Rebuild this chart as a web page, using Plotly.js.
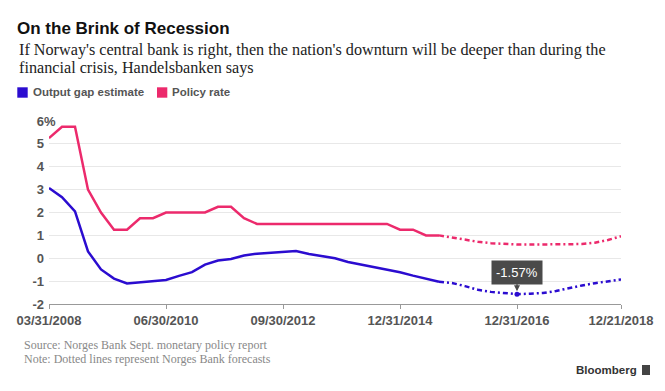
<!DOCTYPE html>
<html>
<head>
<meta charset="utf-8">
<script src="https://cdn.plot.ly/plotly-3.0.1.min.js"></script>
<style>html,body{margin:0;padding:0;background:#fff;}#chart{width:665px;height:391px;}</style>
</head>
<body>
<div id="chart"></div>
<script>
// ---- data (quarterly positions; the forecast starts at the last actual point) ----
const tickPositions = [0, 9, 18, 27, 36, 44];
const tickLabels = ['03/31/2008', '06/30/2010', '09/30/2012', '12/31/2014', '12/31/2016', '12/21/2018'];

const outputGapActual = [3.07, 2.67, 2.05, 0.30, -0.49, -0.89, -1.10, -1.05, -0.97, -0.95,
  -0.77, -0.61, -0.28, -0.10, -0.03, 0.12, 0.20, 0.24, 0.27, 0.32,
  0.19, 0.09, 0.00, -0.16, -0.27, -0.40, -0.52, -0.61, -0.76, -0.90, -1.03];
const outputGapForecast = [-1.03, -1.08, -1.22, -1.38, -1.47, -1.53, -1.57, -1.55, -1.52, -1.43,
  -1.30, -1.19, -1.09, -1.00, -0.93];

const policyRateActual = [5.25, 5.75, 5.75, 3.00, 2.00, 1.25, 1.25, 1.75, 1.75, 2.00,
  2.00, 2.00, 2.00, 2.25, 2.25, 1.75, 1.50, 1.50, 1.50, 1.50,
  1.50, 1.50, 1.50, 1.50, 1.50, 1.50, 1.50, 1.25, 1.25, 1.00, 1.00];
const policyRateForecast = [1.00, 0.90, 0.79, 0.72, 0.66, 0.62, 0.60, 0.60, 0.60, 0.61,
  0.61, 0.62, 0.68, 0.80, 0.96];

const yTickValues = [-2, -1, 0, 1, 2, 3, 4, 5, 6];

// ---- helpers ----
const BLUE = '#2b0cd0';
const PINK = '#ec2a6c';
const L = 49, T = 121, W = 572, H = 183;
const px = x => (x - L) / W;
const py = y => (T + H - y) / H;

const histX = outputGapActual.map((_, i) => i);
const fcStart = histX.length - 1;
const fcX = outputGapForecast.map((_, i) => fcStart + i);
const dashPattern = '5px,3px,2px,3px';

let minIdx = 0;
outputGapForecast.forEach((v, i) => { if (v < outputGapForecast[minIdx]) minIdx = i; });
const minX = fcX[minIdx], minY = outputGapForecast[minIdx];

const traces = [
  {x: histX, y: policyRateActual, mode: 'lines', line: {color: PINK, width: 2.5}, hoverinfo: 'skip'},
  {x: fcX, y: policyRateForecast, mode: 'lines', line: {color: PINK, width: 2.5, dash: dashPattern}, hoverinfo: 'skip'},
  {x: histX, y: outputGapActual, mode: 'lines', line: {color: BLUE, width: 2.5}, hoverinfo: 'skip'},
  {x: fcX, y: outputGapForecast, mode: 'lines', line: {color: BLUE, width: 2.5, dash: dashPattern}, hoverinfo: 'skip'},
  {x: [minX], y: [minY], mode: 'markers', marker: {color: BLUE, size: 5}, hoverinfo: 'skip'}
];

const SANS = 'Liberation Sans, Arial, sans-serif';
const SERIF = 'Liberation Serif, Times New Roman, serif';

const annotations = [
  {text: "If Norway's central bank is right, then the nation's downturn will be deeper than during the",
   xref: 'paper', yref: 'paper', x: px(17), y: py(50), xanchor: 'left', yanchor: 'middle', showarrow: false,
   font: {family: SERIF, size: 16.2, color: '#222'}},
  {text: 'financial crisis, Handelsbanken says',
   xref: 'paper', yref: 'paper', x: px(17), y: py(68), xanchor: 'left', yanchor: 'middle', showarrow: false,
   font: {family: SERIF, size: 16.2, color: '#222'}},
  {text: 'Output gap estimate', xref: 'paper', yref: 'paper', x: px(31), y: py(92.5), xanchor: 'left', yanchor: 'middle',
   showarrow: false, font: {family: SANS, size: 11.5, color: '#555', weight: 'bold'}},
  {text: 'Policy rate', xref: 'paper', yref: 'paper', x: px(170), y: py(92.5), xanchor: 'left', yanchor: 'middle',
   showarrow: false, font: {family: SANS, size: 11.5, color: '#555', weight: 'bold'}},
  {text: '%', xref: 'paper', yref: 'y', x: px(41.5), y: yTickValues[yTickValues.length - 1], xanchor: 'left', yanchor: 'middle',
   showarrow: false, font: {family: SANS, size: 13, color: '#555', weight: 'bold'}},
  {text: minY.toFixed(2) + '%', xref: 'x', yref: 'y', x: minX, y: minY, ax: 0, ay: -22, showarrow: true,
   arrowhead: 2, arrowsize: 0.8, arrowwidth: 1.5, arrowcolor: '#4a4a4a', standoff: 3,
   bgcolor: '#4a4a4a', borderpad: 4, font: {family: SANS, size: 13, color: '#fff'}},
  {text: 'Source: Norges Bank Sept. monetary policy report', xref: 'paper', yref: 'paper', x: px(21.5), y: py(345),
   xanchor: 'left', yanchor: 'middle', showarrow: false, font: {family: SERIF, size: 12, color: '#888'}},
  {text: 'Note: Dotted lines represent Norges Bank forecasts', xref: 'paper', yref: 'paper', x: px(21.5), y: py(359.3),
   xanchor: 'left', yanchor: 'middle', showarrow: false, font: {family: SERIF, size: 12, color: '#888'}},
  {text: 'Bloomberg', xref: 'paper', yref: 'paper', x: px(574), y: py(370), xanchor: 'left', yanchor: 'middle',
   showarrow: false, font: {family: SANS, size: 11.5, color: '#333', weight: 'bold'}}
];

const shapes = [
  {type: 'rect', xref: 'paper', yref: 'paper', x0: px(17.3), x1: px(27.7), y0: py(97.7), y1: py(87.3), fillcolor: BLUE, line: {width: 0}},
  {type: 'rect', xref: 'paper', yref: 'paper', x0: px(157), x1: px(167.3), y0: py(97.7), y1: py(87.3), fillcolor: PINK, line: {width: 0}},
  {type: 'rect', xref: 'paper', yref: 'paper', x0: px(642), x1: px(650), y0: py(375), y1: py(365), fillcolor: '#444', line: {width: 0}}
];

const layout = {
  width: 665, height: 391,
  margin: {l: L, r: 665 - L - W, t: T, b: 391 - T - H, pad: 0},
  paper_bgcolor: '#fff', plot_bgcolor: '#fff',
  showlegend: false,
  title: {text: 'On the Brink of Recession', font: {family: SANS, size: 17, color: '#111', weight: 'bold'},
          x: 17 / 665, xref: 'container', xanchor: 'left', y: 1 - 28.5 / 391, yref: 'container', yanchor: 'middle'},
  xaxis: {range: [0, 44], tickvals: tickPositions, ticktext: tickLabels, ticks: 'outside', ticklen: 4, tickcolor: '#999',
          showline: true, linecolor: '#999', linewidth: 1, showgrid: false, zeroline: false, fixedrange: true,
          tickfont: {family: SANS, size: 13, color: '#555', weight: 'bold'}},
  yaxis: {range: [-2, 6], tickvals: yTickValues, ticktext: yTickValues.map(String), showgrid: true, gridcolor: '#e8e8e8',
          gridwidth: 1, zeroline: false, showline: false, ticks: '', fixedrange: true, ticklabelstandoff: 4,
          tickfont: {family: SANS, size: 13, color: '#555', weight: 'bold'}},
  annotations: annotations,
  shapes: shapes
};

Plotly.newPlot('chart', traces, layout, {displayModeBar: false, staticPlot: true});
</script>
</body>
</html>
